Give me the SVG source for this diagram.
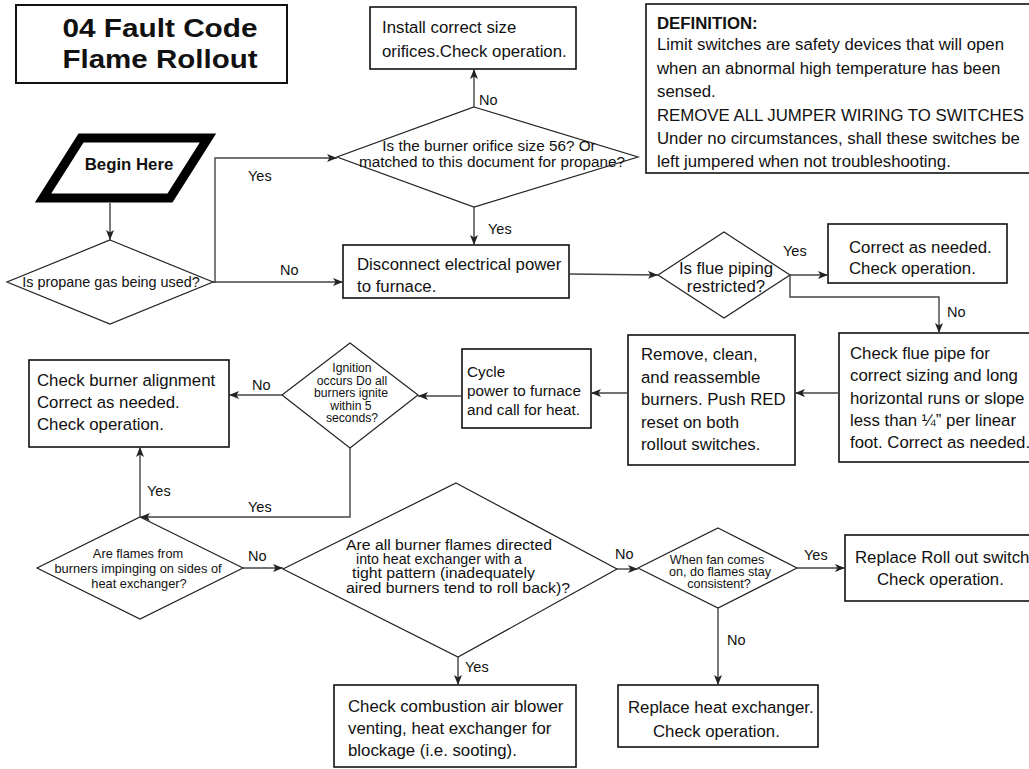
<svg xmlns="http://www.w3.org/2000/svg" width="1029" height="769" viewBox="0 0 1029 769">
<defs>
<marker id="arr" viewBox="0 0 10 8" refX="10" refY="4" markerWidth="10" markerHeight="8" markerUnits="userSpaceOnUse" orient="auto">
<path d="M0,0 L10,4 L0,8 L2.5,4 z" fill="#222"/>
</marker>
<style>
.box{fill:#fff;stroke:#111;stroke-width:1.6}
.dia{fill:#fff;stroke:#222;stroke-width:1.2}
.con{fill:none;stroke:#444;stroke-width:1.4;marker-end:url(#arr)}
.t{font-family:"Liberation Sans",Arial,sans-serif;font-size:16.8px;fill:#111}
.lbl{font-family:"Liberation Sans",Arial,sans-serif;font-size:14.5px;fill:#111}
.m{text-anchor:middle}
.s15{font-size:15.3px}
.s145{font-size:14.4px}
.s14{font-size:14px}
.s13{font-size:12.6px}
.s125{font-size:12.8px}
.s12{font-size:12.2px}
</style>
</defs>
<rect width="1029" height="769" fill="#fff"/>

<g id="title">
<rect x="16" y="5" width="271" height="78" fill="#fff" stroke="#111" stroke-width="2"/>
<text x="160" y="37" class="m" font-family="Liberation Sans,Arial,sans-serif" font-weight="bold" font-size="25" fill="#111" textLength="195" lengthAdjust="spacingAndGlyphs">04 Fault Code</text>
<text x="160" y="68" class="m" font-family="Liberation Sans,Arial,sans-serif" font-weight="bold" font-size="25" fill="#111" textLength="195" lengthAdjust="spacingAndGlyphs">Flame Rollout</text>
</g>

<g id="definition">
<rect x="646" y="4" width="395" height="169" class="box"/>
<text x="657" y="29" class="t" font-weight="bold">DEFINITION:</text>
<text x="657" y="50" class="t">Limit switches are safety devices that will open</text>
<text x="657" y="73.5" class="t">when an abnormal high temperature has been</text>
<text x="657" y="97" class="t">sensed.</text>
<text x="657" y="120.5" class="t">REMOVE ALL JUMPER WIRING TO SWITCHES</text>
<text x="657" y="144" class="t">Under no circumstances, shall these switches be</text>
<text x="657" y="167" class="t">left jumpered when not troubleshooting.</text>
</g>

<g id="begin">
<polygon points="81,138 208,138 170,198 43,198" fill="#fff" stroke="#000" stroke-width="9"/>
<text x="129" y="170" class="t m" font-weight="bold">Begin Here</text>
</g>

<g id="propane">
<polygon points="110,240 213,282 110,324 7,282" class="dia"/>
<text x="111" y="287" class="t m s145">Is propane gas being used?</text>
</g>

<g id="orifice">
<polygon points="474,107 638,157 474,207 337,157" class="dia"/>
<text x="489" y="151" class="t m s15">Is the burner orifice size 56? Or</text>
<text x="492" y="167" class="t m s15">matched to this document for propane?</text>
</g>

<g id="install">
<rect x="370" y="7" width="206" height="62" class="box"/>
<text x="382" y="33" class="t">Install correct size</text>
<text x="382" y="57" class="t">orifices.Check operation.</text>
</g>

<g id="disconnect">
<rect x="343" y="245" width="226" height="53" class="box"/>
<text x="357" y="270" class="t">Disconnect electrical power</text>
<text x="357" y="292" class="t">to furnace.</text>
</g>

<g id="flue">
<polygon points="724,232 790,275 724,318 658,275" class="dia"/>
<text x="726" y="274" class="t m">Is flue piping</text>
<text x="726" y="292" class="t m">restricted?</text>
</g>

<g id="correct">
<rect x="828" y="224" width="179" height="59" class="box"/>
<text x="849" y="253" class="t">Correct as needed.</text>
<text x="849" y="274" class="t">Check operation.</text>
</g>

<g id="checkflue">
<rect x="839" y="333" width="210" height="129" class="box"/>
<text x="850" y="359" class="t">Check flue pipe for</text>
<text x="850" y="381" class="t">correct sizing and long</text>
<text x="850" y="403.5" class="t">horizontal runs or slope</text>
<text x="850" y="425.5" class="t">less than ¼” per linear</text>
<text x="850" y="448" class="t">foot. Correct as needed.</text>
</g>

<g id="remove">
<rect x="628" y="335" width="167" height="130" class="box"/>
<text x="641" y="360" class="t">Remove, clean,</text>
<text x="641" y="382.5" class="t">and reassemble</text>
<text x="641" y="405" class="t">burners. Push RED</text>
<text x="641" y="427.5" class="t">reset on both</text>
<text x="641" y="450" class="t">rollout switches.</text>
</g>

<g id="cycle">
<rect x="462" y="349" width="129" height="79" class="box"/>
<text x="467" y="377" class="t s15">Cycle</text>
<text x="467" y="396" class="t s15">power to furnace</text>
<text x="467" y="414.5" class="t s15">and call for heat.</text>
</g>

<g id="ignition">
<polygon points="350,343 418,395 350,448 282,395" class="dia"/>
<text x="352" y="372" class="t m s12">Ignition</text>
<text x="352" y="384.5" class="t m s12">occurs Do all</text>
<text x="351" y="397" class="t m s12">burners ignite</text>
<text x="351" y="409.5" class="t m s12">within 5</text>
<text x="352" y="422" class="t m s12">seconds?</text>
</g>

<g id="alignment">
<rect x="29" y="360" width="200" height="87" class="box"/>
<text x="37" y="386" class="t">Check burner alignment</text>
<text x="37" y="408" class="t">Correct as needed.</text>
<text x="37" y="430" class="t">Check operation.</text>
</g>

<g id="impinging">
<polygon points="140,517 243,568 140,619 37,568" class="dia"/>
<text x="138" y="558" class="t m s125">Are flames from</text>
<text x="138" y="573" class="t m s125">burners impinging on sides of</text>
<text x="139" y="588" class="t m s125">heat exchanger?</text>
</g>

<g id="directed">
<polygon points="456,483 617,569 458,657 283,569" class="dia"/>
<text x="346" y="550" class="t s14" textLength="206" lengthAdjust="spacingAndGlyphs">Are all burner flames directed</text>
<text x="356" y="564" class="t s14" textLength="166" lengthAdjust="spacingAndGlyphs">into heat exchanger with a</text>
<text x="352" y="578" class="t s14" textLength="183" lengthAdjust="spacingAndGlyphs">tight pattern (inadequately</text>
<text x="346" y="592.5" class="t s14" textLength="224" lengthAdjust="spacingAndGlyphs">aired burners tend to roll back)?</text>
</g>

<g id="combustion">
<rect x="334" y="685" width="242" height="82" class="box"/>
<text x="348" y="712" class="t">Check combustion air blower</text>
<text x="348" y="734" class="t">venting, heat exchanger for</text>
<text x="348" y="756" class="t">blockage (i.e. sooting).</text>
</g>

<g id="fan">
<polygon points="718,528 797,568 718,608 638,568" class="dia"/>
<text x="717" y="564" class="t m s13">When fan comes</text>
<text x="720" y="576" class="t m s13">on, do flames stay</text>
<text x="719" y="588" class="t m s13">consistent?</text>
</g>

<g id="rollswitch">
<rect x="845" y="535" width="195" height="66" class="box"/>
<text x="855" y="563" class="t">Replace Roll out switch</text>
<text x="877" y="585" class="t">Check operation.</text>
</g>

<g id="heatexchanger">
<rect x="618" y="685" width="200" height="62" class="box"/>
<text x="628" y="713" class="t">Replace heat exchanger.</text>
<text x="653" y="737" class="t">Check operation.</text>
</g>

<g id="connectors">
<path class="con" d="M110,203 V240"/>
<path class="con" d="M213,282 H215 V158 H337"/>
<path class="con" d="M213,282 H343"/>
<path class="con" d="M474,107 V69"/>
<path class="con" d="M474,207 V245"/>
<path class="con" d="M569,274 L658,275"/>
<path class="con" d="M790,275 H828"/>
<path class="con" d="M790,275 V297 H939 V333"/>
<path class="con" d="M839,393 H795"/>
<path class="con" d="M628,393 H591"/>
<path class="con" d="M462,396 H418"/>
<path class="con" d="M282,395 H229"/>
<path class="con" d="M350,448 V517 H140"/>
<path class="con" d="M140,517 V447"/>
<path class="con" d="M243,568 H283"/>
<path class="con" d="M617,569 H638"/>
<path class="con" d="M458,657 V685"/>
<path class="con" d="M797,568 H845"/>
<path class="con" d="M718,608 V685"/>
<text x="248" y="181" class="lbl">Yes</text>
<text x="280" y="275" class="lbl">No</text>
<text x="479" y="105" class="lbl">No</text>
<text x="488" y="234" class="lbl">Yes</text>
<text x="783" y="256" class="lbl">Yes</text>
<text x="947" y="317" class="lbl">No</text>
<text x="252" y="390" class="lbl">No</text>
<text x="248" y="512" class="lbl">Yes</text>
<text x="147" y="496" class="lbl">Yes</text>
<text x="248" y="561" class="lbl">No</text>
<text x="615" y="559" class="lbl">No</text>
<text x="465" y="672" class="lbl">Yes</text>
<text x="804" y="560" class="lbl">Yes</text>
<text x="727" y="645" class="lbl">No</text>
</g>
</svg>
